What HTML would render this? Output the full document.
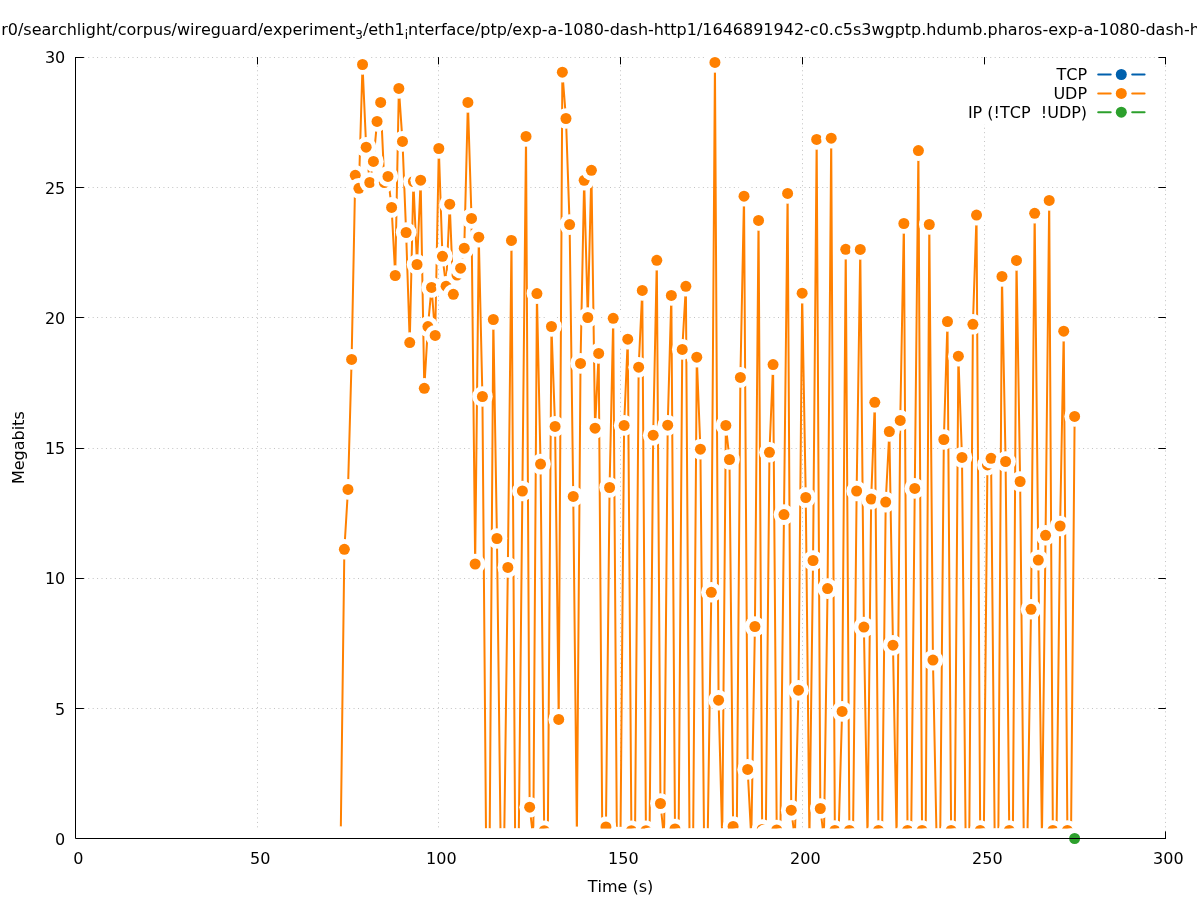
<!DOCTYPE html><html><head><meta charset="utf-8"><title>UDP throughput</title><style>html,body{margin:0;padding:0;background:#fff;}svg{display:block;will-change:transform;}text{font-family:"DejaVu Sans","Liberation Sans",sans-serif;font-size:16px;fill:#000;font-kerning:none;}</style></head><body>
<svg width="1197" height="900" viewBox="0 0 1197 900">
<rect width="1197" height="900" fill="#fff"/>
<path d="M257.50 57.50V838.50M438.50 57.50V838.50M620.50 57.50V838.50M802.50 57.50V838.50M984.50 57.50V838.50M1165.50 57.50V838.50M75.50 708.50H1165.50M75.50 578.50H1165.50M75.50 448.50H1165.50M75.50 317.50H1165.50M75.50 187.50H1165.50M75.50 57.50H1165.50" stroke="#c2c2c2" stroke-width="1" stroke-dasharray="1 3.4215" stroke-dashoffset="0.5" fill="none"/>
<path d="M75.50 838.50h8M1165.50 838.50h-6.7M75.50 708.50h8M1165.50 708.50h-6.7M75.50 578.50h8M1165.50 578.50h-6.7M75.50 448.50h8M1165.50 448.50h-6.7M75.50 317.50h8M1165.50 317.50h-6.7M75.50 187.50h8M1165.50 187.50h-6.7M75.50 57.50h8M1165.50 57.50h-6.7M75.50 838.50v-6.7M75.50 57.50v6.5M257.50 838.50v-6.7M257.50 57.50v6.5M438.50 838.50v-6.7M438.50 57.50v6.5M620.50 838.50v-6.7M620.50 57.50v6.5M802.50 838.50v-6.7M802.50 57.50v6.5M984.50 838.50v-6.7M984.50 57.50v6.5M1165.50 838.50v-6.7M1165.50 57.50v6.5" stroke="#000" stroke-width="1" stroke-linecap="round" fill="none"/>
<rect x="960" y="65" width="195" height="59.5" fill="#fff"/>
<polyline points="340.72,836.60 344.36,549.30 347.99,489.40 351.62,359.40 355.26,175.30 358.89,188.30 362.52,64.50 366.16,147.20 369.79,182.50 373.42,161.40 377.06,121.40 380.69,102.40 384.32,182.50 387.96,176.40 391.59,207.40 395.22,275.50 398.85,88.40 402.49,141.40 406.12,232.50 409.75,342.60 413.39,181.50 417.02,264.50 420.65,180.20 424.29,388.30 427.92,326.60 431.55,287.40 435.19,335.40 438.82,148.50 442.45,256.30 446.09,286.20 449.72,204.20 453.35,294.30 456.99,275.10 460.62,268.20 464.25,248.20 467.89,102.40 471.52,218.40 475.15,564.00 478.79,237.20 482.42,396.50 486.05,838.50 489.68,838.50 493.32,319.50 496.95,538.50 500.58,838.50 504.22,838.50 507.85,567.40 511.48,240.40 515.12,838.50 518.75,838.50 522.38,491.00 526.02,136.40 529.65,807.20 533.28,838.50 536.92,293.60 540.55,464.10 544.18,830.70 547.82,838.50 551.45,326.50 555.08,426.40 558.72,719.40 562.35,72.20 565.98,118.50 569.62,224.60 573.25,496.40 576.88,836.80 580.51,363.40 584.15,180.30 587.78,317.50 591.41,170.30 595.05,428.20 598.68,353.40 602.31,838.50 605.95,826.90 609.58,487.50 613.21,318.30 616.85,837.00 620.48,837.00 624.11,425.40 627.75,339.20 631.38,830.70 635.01,838.50 638.65,367.20 642.28,290.40 645.91,830.70 649.55,837.70 653.18,435.20 656.81,260.30 660.45,803.50 664.08,838.50 667.71,425.20 671.34,295.40 674.98,829.00 678.61,838.50 682.24,349.40 685.88,286.30 689.51,838.50 693.14,838.50 696.78,357.20 700.41,449.20 704.04,838.50 707.68,838.50 711.31,592.30 714.94,62.40 718.58,700.20 722.21,838.50 725.84,425.40 729.48,459.50 733.11,826.50 736.74,838.50 740.38,377.40 744.01,196.20 747.64,769.40 751.28,838.50 754.91,626.50 758.54,220.40 762.17,829.50 765.81,834.50 769.44,452.30 773.07,364.60 776.71,830.00 780.34,838.50 783.97,514.60 787.61,193.40 791.24,810.20 794.87,838.50 798.51,690.20 802.14,293.20 805.77,497.50 809.41,838.50 813.04,560.50 816.67,139.40 820.31,808.50 823.94,838.50 827.57,588.60 831.21,138.20 834.84,830.50 838.47,838.50 842.11,711.40 845.74,249.30 849.37,830.50 853.00,838.50 856.64,491.00 860.27,249.40 863.90,627.10 867.54,838.50 871.17,499.10 874.80,402.30 878.44,830.50 882.07,838.50 885.70,502.10 889.34,431.50 892.97,645.20 896.60,838.50 900.24,420.40 903.87,223.50 907.50,830.50 911.14,838.50 914.77,488.40 918.40,150.60 922.04,830.50 925.67,838.50 929.30,224.50 932.94,660.10 936.57,838.50 940.20,838.50 943.83,439.50 947.47,321.50 951.10,830.50 954.73,838.50 958.37,356.20 962.00,457.40 965.63,838.50 969.27,838.50 972.90,324.30 976.53,215.10 980.17,830.50 983.80,838.50 987.43,464.90 991.07,458.30 994.70,838.50 998.33,838.50 1001.97,276.40 1005.60,461.50 1009.23,830.50 1012.87,838.50 1016.50,260.40 1020.13,481.50 1023.77,838.50 1027.40,838.50 1031.03,609.30 1034.66,213.30 1038.30,560.10 1041.93,838.50 1045.56,535.30 1049.20,200.40 1052.83,830.50 1056.46,838.50 1060.10,526.00 1063.73,331.20 1067.36,830.50 1071.00,838.50 1074.63,416.40" stroke="#ff8000" stroke-width="2.0" fill="none" stroke-linejoin="miter" stroke-miterlimit="3"/>
<circle cx="340.72" cy="836.60" r="10.3" fill="#fff"/><circle cx="340.72" cy="836.60" r="5.5" fill="#ff8000"/>
<circle cx="344.36" cy="549.30" r="10.3" fill="#fff"/><circle cx="344.36" cy="549.30" r="5.5" fill="#ff8000"/>
<circle cx="347.99" cy="489.40" r="10.3" fill="#fff"/><circle cx="347.99" cy="489.40" r="5.5" fill="#ff8000"/>
<circle cx="351.62" cy="359.40" r="10.3" fill="#fff"/><circle cx="351.62" cy="359.40" r="5.5" fill="#ff8000"/>
<circle cx="355.26" cy="175.30" r="10.3" fill="#fff"/><circle cx="355.26" cy="175.30" r="5.5" fill="#ff8000"/>
<circle cx="358.89" cy="188.30" r="10.3" fill="#fff"/><circle cx="358.89" cy="188.30" r="5.5" fill="#ff8000"/>
<circle cx="362.52" cy="64.50" r="10.3" fill="#fff"/><circle cx="362.52" cy="64.50" r="5.5" fill="#ff8000"/>
<circle cx="366.16" cy="147.20" r="10.3" fill="#fff"/><circle cx="366.16" cy="147.20" r="5.5" fill="#ff8000"/>
<circle cx="369.79" cy="182.50" r="10.3" fill="#fff"/><circle cx="369.79" cy="182.50" r="5.5" fill="#ff8000"/>
<circle cx="373.42" cy="161.40" r="10.3" fill="#fff"/><circle cx="373.42" cy="161.40" r="5.5" fill="#ff8000"/>
<circle cx="377.06" cy="121.40" r="10.3" fill="#fff"/><circle cx="377.06" cy="121.40" r="5.5" fill="#ff8000"/>
<circle cx="380.69" cy="102.40" r="10.3" fill="#fff"/><circle cx="380.69" cy="102.40" r="5.5" fill="#ff8000"/>
<circle cx="384.32" cy="182.50" r="10.3" fill="#fff"/><circle cx="384.32" cy="182.50" r="5.5" fill="#ff8000"/>
<circle cx="387.96" cy="176.40" r="10.3" fill="#fff"/><circle cx="387.96" cy="176.40" r="5.5" fill="#ff8000"/>
<circle cx="391.59" cy="207.40" r="10.3" fill="#fff"/><circle cx="391.59" cy="207.40" r="5.5" fill="#ff8000"/>
<circle cx="395.22" cy="275.50" r="10.3" fill="#fff"/><circle cx="395.22" cy="275.50" r="5.5" fill="#ff8000"/>
<circle cx="398.85" cy="88.40" r="10.3" fill="#fff"/><circle cx="398.85" cy="88.40" r="5.5" fill="#ff8000"/>
<circle cx="402.49" cy="141.40" r="10.3" fill="#fff"/><circle cx="402.49" cy="141.40" r="5.5" fill="#ff8000"/>
<circle cx="406.12" cy="232.50" r="10.3" fill="#fff"/><circle cx="406.12" cy="232.50" r="5.5" fill="#ff8000"/>
<circle cx="409.75" cy="342.60" r="10.3" fill="#fff"/><circle cx="409.75" cy="342.60" r="5.5" fill="#ff8000"/>
<circle cx="413.39" cy="181.50" r="10.3" fill="#fff"/><circle cx="413.39" cy="181.50" r="5.5" fill="#ff8000"/>
<circle cx="417.02" cy="264.50" r="10.3" fill="#fff"/><circle cx="417.02" cy="264.50" r="5.5" fill="#ff8000"/>
<circle cx="420.65" cy="180.20" r="10.3" fill="#fff"/><circle cx="420.65" cy="180.20" r="5.5" fill="#ff8000"/>
<circle cx="424.29" cy="388.30" r="10.3" fill="#fff"/><circle cx="424.29" cy="388.30" r="5.5" fill="#ff8000"/>
<circle cx="427.92" cy="326.60" r="10.3" fill="#fff"/><circle cx="427.92" cy="326.60" r="5.5" fill="#ff8000"/>
<circle cx="431.55" cy="287.40" r="10.3" fill="#fff"/><circle cx="431.55" cy="287.40" r="5.5" fill="#ff8000"/>
<circle cx="435.19" cy="335.40" r="10.3" fill="#fff"/><circle cx="435.19" cy="335.40" r="5.5" fill="#ff8000"/>
<circle cx="438.82" cy="148.50" r="10.3" fill="#fff"/><circle cx="438.82" cy="148.50" r="5.5" fill="#ff8000"/>
<circle cx="442.45" cy="256.30" r="10.3" fill="#fff"/><circle cx="442.45" cy="256.30" r="5.5" fill="#ff8000"/>
<circle cx="446.09" cy="286.20" r="10.3" fill="#fff"/><circle cx="446.09" cy="286.20" r="5.5" fill="#ff8000"/>
<circle cx="449.72" cy="204.20" r="10.3" fill="#fff"/><circle cx="449.72" cy="204.20" r="5.5" fill="#ff8000"/>
<circle cx="453.35" cy="294.30" r="10.3" fill="#fff"/><circle cx="453.35" cy="294.30" r="5.5" fill="#ff8000"/>
<circle cx="456.99" cy="275.10" r="10.3" fill="#fff"/><circle cx="456.99" cy="275.10" r="5.5" fill="#ff8000"/>
<circle cx="460.62" cy="268.20" r="10.3" fill="#fff"/><circle cx="460.62" cy="268.20" r="5.5" fill="#ff8000"/>
<circle cx="464.25" cy="248.20" r="10.3" fill="#fff"/><circle cx="464.25" cy="248.20" r="5.5" fill="#ff8000"/>
<circle cx="467.89" cy="102.40" r="10.3" fill="#fff"/><circle cx="467.89" cy="102.40" r="5.5" fill="#ff8000"/>
<circle cx="471.52" cy="218.40" r="10.3" fill="#fff"/><circle cx="471.52" cy="218.40" r="5.5" fill="#ff8000"/>
<circle cx="475.15" cy="564.00" r="10.3" fill="#fff"/><circle cx="475.15" cy="564.00" r="5.5" fill="#ff8000"/>
<circle cx="478.79" cy="237.20" r="10.3" fill="#fff"/><circle cx="478.79" cy="237.20" r="5.5" fill="#ff8000"/>
<circle cx="482.42" cy="396.50" r="10.3" fill="#fff"/><circle cx="482.42" cy="396.50" r="5.5" fill="#ff8000"/>
<circle cx="486.05" cy="838.50" r="10.3" fill="#fff"/><circle cx="486.05" cy="838.50" r="5.5" fill="#ff8000"/>
<circle cx="489.68" cy="838.50" r="10.3" fill="#fff"/><circle cx="489.68" cy="838.50" r="5.5" fill="#ff8000"/>
<circle cx="493.32" cy="319.50" r="10.3" fill="#fff"/><circle cx="493.32" cy="319.50" r="5.5" fill="#ff8000"/>
<circle cx="496.95" cy="538.50" r="10.3" fill="#fff"/><circle cx="496.95" cy="538.50" r="5.5" fill="#ff8000"/>
<circle cx="500.58" cy="838.50" r="10.3" fill="#fff"/><circle cx="500.58" cy="838.50" r="5.5" fill="#ff8000"/>
<circle cx="504.22" cy="838.50" r="10.3" fill="#fff"/><circle cx="504.22" cy="838.50" r="5.5" fill="#ff8000"/>
<circle cx="507.85" cy="567.40" r="10.3" fill="#fff"/><circle cx="507.85" cy="567.40" r="5.5" fill="#ff8000"/>
<circle cx="511.48" cy="240.40" r="10.3" fill="#fff"/><circle cx="511.48" cy="240.40" r="5.5" fill="#ff8000"/>
<circle cx="515.12" cy="838.50" r="10.3" fill="#fff"/><circle cx="515.12" cy="838.50" r="5.5" fill="#ff8000"/>
<circle cx="518.75" cy="838.50" r="10.3" fill="#fff"/><circle cx="518.75" cy="838.50" r="5.5" fill="#ff8000"/>
<circle cx="522.38" cy="491.00" r="10.3" fill="#fff"/><circle cx="522.38" cy="491.00" r="5.5" fill="#ff8000"/>
<circle cx="526.02" cy="136.40" r="10.3" fill="#fff"/><circle cx="526.02" cy="136.40" r="5.5" fill="#ff8000"/>
<circle cx="529.65" cy="807.20" r="10.3" fill="#fff"/><circle cx="529.65" cy="807.20" r="5.5" fill="#ff8000"/>
<circle cx="533.28" cy="838.50" r="10.3" fill="#fff"/><circle cx="533.28" cy="838.50" r="5.5" fill="#ff8000"/>
<circle cx="536.92" cy="293.60" r="10.3" fill="#fff"/><circle cx="536.92" cy="293.60" r="5.5" fill="#ff8000"/>
<circle cx="540.55" cy="464.10" r="10.3" fill="#fff"/><circle cx="540.55" cy="464.10" r="5.5" fill="#ff8000"/>
<circle cx="544.18" cy="830.70" r="10.3" fill="#fff"/><circle cx="544.18" cy="830.70" r="5.5" fill="#ff8000"/>
<circle cx="547.82" cy="838.50" r="10.3" fill="#fff"/><circle cx="547.82" cy="838.50" r="5.5" fill="#ff8000"/>
<circle cx="551.45" cy="326.50" r="10.3" fill="#fff"/><circle cx="551.45" cy="326.50" r="5.5" fill="#ff8000"/>
<circle cx="555.08" cy="426.40" r="10.3" fill="#fff"/><circle cx="555.08" cy="426.40" r="5.5" fill="#ff8000"/>
<circle cx="558.72" cy="719.40" r="10.3" fill="#fff"/><circle cx="558.72" cy="719.40" r="5.5" fill="#ff8000"/>
<circle cx="562.35" cy="72.20" r="10.3" fill="#fff"/><circle cx="562.35" cy="72.20" r="5.5" fill="#ff8000"/>
<circle cx="565.98" cy="118.50" r="10.3" fill="#fff"/><circle cx="565.98" cy="118.50" r="5.5" fill="#ff8000"/>
<circle cx="569.62" cy="224.60" r="10.3" fill="#fff"/><circle cx="569.62" cy="224.60" r="5.5" fill="#ff8000"/>
<circle cx="573.25" cy="496.40" r="10.3" fill="#fff"/><circle cx="573.25" cy="496.40" r="5.5" fill="#ff8000"/>
<circle cx="576.88" cy="836.80" r="10.3" fill="#fff"/><circle cx="576.88" cy="836.80" r="5.5" fill="#ff8000"/>
<circle cx="580.51" cy="363.40" r="10.3" fill="#fff"/><circle cx="580.51" cy="363.40" r="5.5" fill="#ff8000"/>
<circle cx="584.15" cy="180.30" r="10.3" fill="#fff"/><circle cx="584.15" cy="180.30" r="5.5" fill="#ff8000"/>
<circle cx="587.78" cy="317.50" r="10.3" fill="#fff"/><circle cx="587.78" cy="317.50" r="5.5" fill="#ff8000"/>
<circle cx="591.41" cy="170.30" r="10.3" fill="#fff"/><circle cx="591.41" cy="170.30" r="5.5" fill="#ff8000"/>
<circle cx="595.05" cy="428.20" r="10.3" fill="#fff"/><circle cx="595.05" cy="428.20" r="5.5" fill="#ff8000"/>
<circle cx="598.68" cy="353.40" r="10.3" fill="#fff"/><circle cx="598.68" cy="353.40" r="5.5" fill="#ff8000"/>
<circle cx="602.31" cy="838.50" r="10.3" fill="#fff"/><circle cx="602.31" cy="838.50" r="5.5" fill="#ff8000"/>
<circle cx="605.95" cy="826.90" r="10.3" fill="#fff"/><circle cx="605.95" cy="826.90" r="5.5" fill="#ff8000"/>
<circle cx="609.58" cy="487.50" r="10.3" fill="#fff"/><circle cx="609.58" cy="487.50" r="5.5" fill="#ff8000"/>
<circle cx="613.21" cy="318.30" r="10.3" fill="#fff"/><circle cx="613.21" cy="318.30" r="5.5" fill="#ff8000"/>
<circle cx="616.85" cy="837.00" r="10.3" fill="#fff"/><circle cx="616.85" cy="837.00" r="5.5" fill="#ff8000"/>
<circle cx="620.48" cy="837.00" r="10.3" fill="#fff"/><circle cx="620.48" cy="837.00" r="5.5" fill="#ff8000"/>
<circle cx="624.11" cy="425.40" r="10.3" fill="#fff"/><circle cx="624.11" cy="425.40" r="5.5" fill="#ff8000"/>
<circle cx="627.75" cy="339.20" r="10.3" fill="#fff"/><circle cx="627.75" cy="339.20" r="5.5" fill="#ff8000"/>
<circle cx="631.38" cy="830.70" r="10.3" fill="#fff"/><circle cx="631.38" cy="830.70" r="5.5" fill="#ff8000"/>
<circle cx="635.01" cy="838.50" r="10.3" fill="#fff"/><circle cx="635.01" cy="838.50" r="5.5" fill="#ff8000"/>
<circle cx="638.65" cy="367.20" r="10.3" fill="#fff"/><circle cx="638.65" cy="367.20" r="5.5" fill="#ff8000"/>
<circle cx="642.28" cy="290.40" r="10.3" fill="#fff"/><circle cx="642.28" cy="290.40" r="5.5" fill="#ff8000"/>
<circle cx="645.91" cy="830.70" r="10.3" fill="#fff"/><circle cx="645.91" cy="830.70" r="5.5" fill="#ff8000"/>
<circle cx="649.55" cy="837.70" r="10.3" fill="#fff"/><circle cx="649.55" cy="837.70" r="5.5" fill="#ff8000"/>
<circle cx="653.18" cy="435.20" r="10.3" fill="#fff"/><circle cx="653.18" cy="435.20" r="5.5" fill="#ff8000"/>
<circle cx="656.81" cy="260.30" r="10.3" fill="#fff"/><circle cx="656.81" cy="260.30" r="5.5" fill="#ff8000"/>
<circle cx="660.45" cy="803.50" r="10.3" fill="#fff"/><circle cx="660.45" cy="803.50" r="5.5" fill="#ff8000"/>
<circle cx="664.08" cy="838.50" r="10.3" fill="#fff"/><circle cx="664.08" cy="838.50" r="5.5" fill="#ff8000"/>
<circle cx="667.71" cy="425.20" r="10.3" fill="#fff"/><circle cx="667.71" cy="425.20" r="5.5" fill="#ff8000"/>
<circle cx="671.34" cy="295.40" r="10.3" fill="#fff"/><circle cx="671.34" cy="295.40" r="5.5" fill="#ff8000"/>
<circle cx="674.98" cy="829.00" r="10.3" fill="#fff"/><circle cx="674.98" cy="829.00" r="5.5" fill="#ff8000"/>
<circle cx="678.61" cy="838.50" r="10.3" fill="#fff"/><circle cx="678.61" cy="838.50" r="5.5" fill="#ff8000"/>
<circle cx="682.24" cy="349.40" r="10.3" fill="#fff"/><circle cx="682.24" cy="349.40" r="5.5" fill="#ff8000"/>
<circle cx="685.88" cy="286.30" r="10.3" fill="#fff"/><circle cx="685.88" cy="286.30" r="5.5" fill="#ff8000"/>
<circle cx="689.51" cy="838.50" r="10.3" fill="#fff"/><circle cx="689.51" cy="838.50" r="5.5" fill="#ff8000"/>
<circle cx="693.14" cy="838.50" r="10.3" fill="#fff"/><circle cx="693.14" cy="838.50" r="5.5" fill="#ff8000"/>
<circle cx="696.78" cy="357.20" r="10.3" fill="#fff"/><circle cx="696.78" cy="357.20" r="5.5" fill="#ff8000"/>
<circle cx="700.41" cy="449.20" r="10.3" fill="#fff"/><circle cx="700.41" cy="449.20" r="5.5" fill="#ff8000"/>
<circle cx="704.04" cy="838.50" r="10.3" fill="#fff"/><circle cx="704.04" cy="838.50" r="5.5" fill="#ff8000"/>
<circle cx="707.68" cy="838.50" r="10.3" fill="#fff"/><circle cx="707.68" cy="838.50" r="5.5" fill="#ff8000"/>
<circle cx="711.31" cy="592.30" r="10.3" fill="#fff"/><circle cx="711.31" cy="592.30" r="5.5" fill="#ff8000"/>
<circle cx="714.94" cy="62.40" r="10.3" fill="#fff"/><circle cx="714.94" cy="62.40" r="5.5" fill="#ff8000"/>
<circle cx="718.58" cy="700.20" r="10.3" fill="#fff"/><circle cx="718.58" cy="700.20" r="5.5" fill="#ff8000"/>
<circle cx="722.21" cy="838.50" r="10.3" fill="#fff"/><circle cx="722.21" cy="838.50" r="5.5" fill="#ff8000"/>
<circle cx="725.84" cy="425.40" r="10.3" fill="#fff"/><circle cx="725.84" cy="425.40" r="5.5" fill="#ff8000"/>
<circle cx="729.48" cy="459.50" r="10.3" fill="#fff"/><circle cx="729.48" cy="459.50" r="5.5" fill="#ff8000"/>
<circle cx="733.11" cy="826.50" r="10.3" fill="#fff"/><circle cx="733.11" cy="826.50" r="5.5" fill="#ff8000"/>
<circle cx="736.74" cy="838.50" r="10.3" fill="#fff"/><circle cx="736.74" cy="838.50" r="5.5" fill="#ff8000"/>
<circle cx="740.38" cy="377.40" r="10.3" fill="#fff"/><circle cx="740.38" cy="377.40" r="5.5" fill="#ff8000"/>
<circle cx="744.01" cy="196.20" r="10.3" fill="#fff"/><circle cx="744.01" cy="196.20" r="5.5" fill="#ff8000"/>
<circle cx="747.64" cy="769.40" r="10.3" fill="#fff"/><circle cx="747.64" cy="769.40" r="5.5" fill="#ff8000"/>
<circle cx="751.28" cy="838.50" r="10.3" fill="#fff"/><circle cx="751.28" cy="838.50" r="5.5" fill="#ff8000"/>
<circle cx="754.91" cy="626.50" r="10.3" fill="#fff"/><circle cx="754.91" cy="626.50" r="5.5" fill="#ff8000"/>
<circle cx="758.54" cy="220.40" r="10.3" fill="#fff"/><circle cx="758.54" cy="220.40" r="5.5" fill="#ff8000"/>
<circle cx="762.17" cy="829.50" r="10.3" fill="#fff"/><circle cx="762.17" cy="829.50" r="5.5" fill="#ff8000"/>
<circle cx="765.81" cy="834.50" r="10.3" fill="#fff"/><circle cx="765.81" cy="834.50" r="5.5" fill="#ff8000"/>
<circle cx="769.44" cy="452.30" r="10.3" fill="#fff"/><circle cx="769.44" cy="452.30" r="5.5" fill="#ff8000"/>
<circle cx="773.07" cy="364.60" r="10.3" fill="#fff"/><circle cx="773.07" cy="364.60" r="5.5" fill="#ff8000"/>
<circle cx="776.71" cy="830.00" r="10.3" fill="#fff"/><circle cx="776.71" cy="830.00" r="5.5" fill="#ff8000"/>
<circle cx="780.34" cy="838.50" r="10.3" fill="#fff"/><circle cx="780.34" cy="838.50" r="5.5" fill="#ff8000"/>
<circle cx="783.97" cy="514.60" r="10.3" fill="#fff"/><circle cx="783.97" cy="514.60" r="5.5" fill="#ff8000"/>
<circle cx="787.61" cy="193.40" r="10.3" fill="#fff"/><circle cx="787.61" cy="193.40" r="5.5" fill="#ff8000"/>
<circle cx="791.24" cy="810.20" r="10.3" fill="#fff"/><circle cx="791.24" cy="810.20" r="5.5" fill="#ff8000"/>
<circle cx="794.87" cy="838.50" r="10.3" fill="#fff"/><circle cx="794.87" cy="838.50" r="5.5" fill="#ff8000"/>
<circle cx="798.51" cy="690.20" r="10.3" fill="#fff"/><circle cx="798.51" cy="690.20" r="5.5" fill="#ff8000"/>
<circle cx="802.14" cy="293.20" r="10.3" fill="#fff"/><circle cx="802.14" cy="293.20" r="5.5" fill="#ff8000"/>
<circle cx="805.77" cy="497.50" r="10.3" fill="#fff"/><circle cx="805.77" cy="497.50" r="5.5" fill="#ff8000"/>
<circle cx="809.41" cy="838.50" r="10.3" fill="#fff"/><circle cx="809.41" cy="838.50" r="5.5" fill="#ff8000"/>
<circle cx="813.04" cy="560.50" r="10.3" fill="#fff"/><circle cx="813.04" cy="560.50" r="5.5" fill="#ff8000"/>
<circle cx="816.67" cy="139.40" r="10.3" fill="#fff"/><circle cx="816.67" cy="139.40" r="5.5" fill="#ff8000"/>
<circle cx="820.31" cy="808.50" r="10.3" fill="#fff"/><circle cx="820.31" cy="808.50" r="5.5" fill="#ff8000"/>
<circle cx="823.94" cy="838.50" r="10.3" fill="#fff"/><circle cx="823.94" cy="838.50" r="5.5" fill="#ff8000"/>
<circle cx="827.57" cy="588.60" r="10.3" fill="#fff"/><circle cx="827.57" cy="588.60" r="5.5" fill="#ff8000"/>
<circle cx="831.21" cy="138.20" r="10.3" fill="#fff"/><circle cx="831.21" cy="138.20" r="5.5" fill="#ff8000"/>
<circle cx="834.84" cy="830.50" r="10.3" fill="#fff"/><circle cx="834.84" cy="830.50" r="5.5" fill="#ff8000"/>
<circle cx="838.47" cy="838.50" r="10.3" fill="#fff"/><circle cx="838.47" cy="838.50" r="5.5" fill="#ff8000"/>
<circle cx="842.11" cy="711.40" r="10.3" fill="#fff"/><circle cx="842.11" cy="711.40" r="5.5" fill="#ff8000"/>
<circle cx="845.74" cy="249.30" r="10.3" fill="#fff"/><circle cx="845.74" cy="249.30" r="5.5" fill="#ff8000"/>
<circle cx="849.37" cy="830.50" r="10.3" fill="#fff"/><circle cx="849.37" cy="830.50" r="5.5" fill="#ff8000"/>
<circle cx="853.00" cy="838.50" r="10.3" fill="#fff"/><circle cx="853.00" cy="838.50" r="5.5" fill="#ff8000"/>
<circle cx="856.64" cy="491.00" r="10.3" fill="#fff"/><circle cx="856.64" cy="491.00" r="5.5" fill="#ff8000"/>
<circle cx="860.27" cy="249.40" r="10.3" fill="#fff"/><circle cx="860.27" cy="249.40" r="5.5" fill="#ff8000"/>
<circle cx="863.90" cy="627.10" r="10.3" fill="#fff"/><circle cx="863.90" cy="627.10" r="5.5" fill="#ff8000"/>
<circle cx="867.54" cy="838.50" r="10.3" fill="#fff"/><circle cx="867.54" cy="838.50" r="5.5" fill="#ff8000"/>
<circle cx="871.17" cy="499.10" r="10.3" fill="#fff"/><circle cx="871.17" cy="499.10" r="5.5" fill="#ff8000"/>
<circle cx="874.80" cy="402.30" r="10.3" fill="#fff"/><circle cx="874.80" cy="402.30" r="5.5" fill="#ff8000"/>
<circle cx="878.44" cy="830.50" r="10.3" fill="#fff"/><circle cx="878.44" cy="830.50" r="5.5" fill="#ff8000"/>
<circle cx="882.07" cy="838.50" r="10.3" fill="#fff"/><circle cx="882.07" cy="838.50" r="5.5" fill="#ff8000"/>
<circle cx="885.70" cy="502.10" r="10.3" fill="#fff"/><circle cx="885.70" cy="502.10" r="5.5" fill="#ff8000"/>
<circle cx="889.34" cy="431.50" r="10.3" fill="#fff"/><circle cx="889.34" cy="431.50" r="5.5" fill="#ff8000"/>
<circle cx="892.97" cy="645.20" r="10.3" fill="#fff"/><circle cx="892.97" cy="645.20" r="5.5" fill="#ff8000"/>
<circle cx="896.60" cy="838.50" r="10.3" fill="#fff"/><circle cx="896.60" cy="838.50" r="5.5" fill="#ff8000"/>
<circle cx="900.24" cy="420.40" r="10.3" fill="#fff"/><circle cx="900.24" cy="420.40" r="5.5" fill="#ff8000"/>
<circle cx="903.87" cy="223.50" r="10.3" fill="#fff"/><circle cx="903.87" cy="223.50" r="5.5" fill="#ff8000"/>
<circle cx="907.50" cy="830.50" r="10.3" fill="#fff"/><circle cx="907.50" cy="830.50" r="5.5" fill="#ff8000"/>
<circle cx="911.14" cy="838.50" r="10.3" fill="#fff"/><circle cx="911.14" cy="838.50" r="5.5" fill="#ff8000"/>
<circle cx="914.77" cy="488.40" r="10.3" fill="#fff"/><circle cx="914.77" cy="488.40" r="5.5" fill="#ff8000"/>
<circle cx="918.40" cy="150.60" r="10.3" fill="#fff"/><circle cx="918.40" cy="150.60" r="5.5" fill="#ff8000"/>
<circle cx="922.04" cy="830.50" r="10.3" fill="#fff"/><circle cx="922.04" cy="830.50" r="5.5" fill="#ff8000"/>
<circle cx="925.67" cy="838.50" r="10.3" fill="#fff"/><circle cx="925.67" cy="838.50" r="5.5" fill="#ff8000"/>
<circle cx="929.30" cy="224.50" r="10.3" fill="#fff"/><circle cx="929.30" cy="224.50" r="5.5" fill="#ff8000"/>
<circle cx="932.94" cy="660.10" r="10.3" fill="#fff"/><circle cx="932.94" cy="660.10" r="5.5" fill="#ff8000"/>
<circle cx="936.57" cy="838.50" r="10.3" fill="#fff"/><circle cx="936.57" cy="838.50" r="5.5" fill="#ff8000"/>
<circle cx="940.20" cy="838.50" r="10.3" fill="#fff"/><circle cx="940.20" cy="838.50" r="5.5" fill="#ff8000"/>
<circle cx="943.83" cy="439.50" r="10.3" fill="#fff"/><circle cx="943.83" cy="439.50" r="5.5" fill="#ff8000"/>
<circle cx="947.47" cy="321.50" r="10.3" fill="#fff"/><circle cx="947.47" cy="321.50" r="5.5" fill="#ff8000"/>
<circle cx="951.10" cy="830.50" r="10.3" fill="#fff"/><circle cx="951.10" cy="830.50" r="5.5" fill="#ff8000"/>
<circle cx="954.73" cy="838.50" r="10.3" fill="#fff"/><circle cx="954.73" cy="838.50" r="5.5" fill="#ff8000"/>
<circle cx="958.37" cy="356.20" r="10.3" fill="#fff"/><circle cx="958.37" cy="356.20" r="5.5" fill="#ff8000"/>
<circle cx="962.00" cy="457.40" r="10.3" fill="#fff"/><circle cx="962.00" cy="457.40" r="5.5" fill="#ff8000"/>
<circle cx="965.63" cy="838.50" r="10.3" fill="#fff"/><circle cx="965.63" cy="838.50" r="5.5" fill="#ff8000"/>
<circle cx="969.27" cy="838.50" r="10.3" fill="#fff"/><circle cx="969.27" cy="838.50" r="5.5" fill="#ff8000"/>
<circle cx="972.90" cy="324.30" r="10.3" fill="#fff"/><circle cx="972.90" cy="324.30" r="5.5" fill="#ff8000"/>
<circle cx="976.53" cy="215.10" r="10.3" fill="#fff"/><circle cx="976.53" cy="215.10" r="5.5" fill="#ff8000"/>
<circle cx="980.17" cy="830.50" r="10.3" fill="#fff"/><circle cx="980.17" cy="830.50" r="5.5" fill="#ff8000"/>
<circle cx="983.80" cy="838.50" r="10.3" fill="#fff"/><circle cx="983.80" cy="838.50" r="5.5" fill="#ff8000"/>
<circle cx="987.43" cy="464.90" r="10.3" fill="#fff"/><circle cx="987.43" cy="464.90" r="5.5" fill="#ff8000"/>
<circle cx="991.07" cy="458.30" r="10.3" fill="#fff"/><circle cx="991.07" cy="458.30" r="5.5" fill="#ff8000"/>
<circle cx="994.70" cy="838.50" r="10.3" fill="#fff"/><circle cx="994.70" cy="838.50" r="5.5" fill="#ff8000"/>
<circle cx="998.33" cy="838.50" r="10.3" fill="#fff"/><circle cx="998.33" cy="838.50" r="5.5" fill="#ff8000"/>
<circle cx="1001.97" cy="276.40" r="10.3" fill="#fff"/><circle cx="1001.97" cy="276.40" r="5.5" fill="#ff8000"/>
<circle cx="1005.60" cy="461.50" r="10.3" fill="#fff"/><circle cx="1005.60" cy="461.50" r="5.5" fill="#ff8000"/>
<circle cx="1009.23" cy="830.50" r="10.3" fill="#fff"/><circle cx="1009.23" cy="830.50" r="5.5" fill="#ff8000"/>
<circle cx="1012.87" cy="838.50" r="10.3" fill="#fff"/><circle cx="1012.87" cy="838.50" r="5.5" fill="#ff8000"/>
<circle cx="1016.50" cy="260.40" r="10.3" fill="#fff"/><circle cx="1016.50" cy="260.40" r="5.5" fill="#ff8000"/>
<circle cx="1020.13" cy="481.50" r="10.3" fill="#fff"/><circle cx="1020.13" cy="481.50" r="5.5" fill="#ff8000"/>
<circle cx="1023.77" cy="838.50" r="10.3" fill="#fff"/><circle cx="1023.77" cy="838.50" r="5.5" fill="#ff8000"/>
<circle cx="1027.40" cy="838.50" r="10.3" fill="#fff"/><circle cx="1027.40" cy="838.50" r="5.5" fill="#ff8000"/>
<circle cx="1031.03" cy="609.30" r="10.3" fill="#fff"/><circle cx="1031.03" cy="609.30" r="5.5" fill="#ff8000"/>
<circle cx="1034.66" cy="213.30" r="10.3" fill="#fff"/><circle cx="1034.66" cy="213.30" r="5.5" fill="#ff8000"/>
<circle cx="1038.30" cy="560.10" r="10.3" fill="#fff"/><circle cx="1038.30" cy="560.10" r="5.5" fill="#ff8000"/>
<circle cx="1041.93" cy="838.50" r="10.3" fill="#fff"/><circle cx="1041.93" cy="838.50" r="5.5" fill="#ff8000"/>
<circle cx="1045.56" cy="535.30" r="10.3" fill="#fff"/><circle cx="1045.56" cy="535.30" r="5.5" fill="#ff8000"/>
<circle cx="1049.20" cy="200.40" r="10.3" fill="#fff"/><circle cx="1049.20" cy="200.40" r="5.5" fill="#ff8000"/>
<circle cx="1052.83" cy="830.50" r="10.3" fill="#fff"/><circle cx="1052.83" cy="830.50" r="5.5" fill="#ff8000"/>
<circle cx="1056.46" cy="838.50" r="10.3" fill="#fff"/><circle cx="1056.46" cy="838.50" r="5.5" fill="#ff8000"/>
<circle cx="1060.10" cy="526.00" r="10.3" fill="#fff"/><circle cx="1060.10" cy="526.00" r="5.5" fill="#ff8000"/>
<circle cx="1063.73" cy="331.20" r="10.3" fill="#fff"/><circle cx="1063.73" cy="331.20" r="5.5" fill="#ff8000"/>
<circle cx="1067.36" cy="830.50" r="10.3" fill="#fff"/><circle cx="1067.36" cy="830.50" r="5.5" fill="#ff8000"/>
<circle cx="1071.00" cy="838.50" r="10.3" fill="#fff"/><circle cx="1071.00" cy="838.50" r="5.5" fill="#ff8000"/>
<circle cx="1074.63" cy="416.40" r="10.3" fill="#fff"/><circle cx="1074.63" cy="416.40" r="5.5" fill="#ff8000"/>
<rect x="66" y="828.6" width="1018.93" height="19.80" fill="#fff"/>
<circle cx="1074.63" cy="838.50" r="5.5" fill="#2ca02c"/>
<path d="M75.50 57.50V838.50H1165.50" stroke="#000" stroke-width="1" fill="none" stroke-linejoin="round" stroke-linecap="round"/>
<text x="65.3" y="845" text-anchor="end">0</text>
<text x="65.3" y="715" text-anchor="end">5</text>
<text x="65.3" y="584" text-anchor="end">10</text>
<text x="65.3" y="454" text-anchor="end">15</text>
<text x="65.3" y="324" text-anchor="end">20</text>
<text x="65.3" y="194" text-anchor="end">25</text>
<text x="65.3" y="63" text-anchor="end">30</text>
<text x="78.30" y="863.9" text-anchor="middle">0</text>
<text x="260.30" y="863.9" text-anchor="middle">50</text>
<text x="441.30" y="863.9" text-anchor="middle">100</text>
<text x="623.30" y="863.9" text-anchor="middle">150</text>
<text x="805.30" y="863.9" text-anchor="middle">200</text>
<text x="987.30" y="863.9" text-anchor="middle">250</text>
<text x="1168.30" y="863.9" text-anchor="middle">300</text>
<text x="620.5" y="892.2" text-anchor="middle">Time (s)</text>
<text transform="translate(24 447.7) rotate(-90)" text-anchor="middle">Megabits</text>
<text x="1.2" y="34.7">r0/searchlight/corpus/wireguard/experiment<tspan font-size="12" dy="4">3</tspan><tspan dy="-4">/eth1</tspan><tspan font-size="12" dy="4">i</tspan><tspan dy="-4">nterface/ptp/exp-a-1080-dash-http1/1646891942-c0.c5s3wgptp.hdumb.pharos-exp-a-1080-dash-http1</tspan></text>
<text x="1087.1" y="79.90" text-anchor="end">TCP</text>
<path d="M1098.2 74.5H1110.7M1132.2 74.5H1144.6" stroke="#0060ad" stroke-width="2.0" stroke-linecap="round"/>
<circle cx="1121.3" cy="74.5" r="5.5" fill="#0060ad"/>
<text x="1087.1" y="98.80" text-anchor="end">UDP</text>
<path d="M1098.2 93.4H1110.7M1132.2 93.4H1144.6" stroke="#ff8000" stroke-width="2.0" stroke-linecap="round"/>
<circle cx="1121.3" cy="93.4" r="5.5" fill="#ff8000"/>
<text x="1087.1" y="117.60" text-anchor="end">IP (!TCP  !UDP)</text>
<path d="M1098.2 112.2H1110.7M1132.2 112.2H1144.6" stroke="#2ca02c" stroke-width="2.0" stroke-linecap="round"/>
<circle cx="1121.3" cy="112.2" r="5.5" fill="#2ca02c"/>
</svg></body></html>
